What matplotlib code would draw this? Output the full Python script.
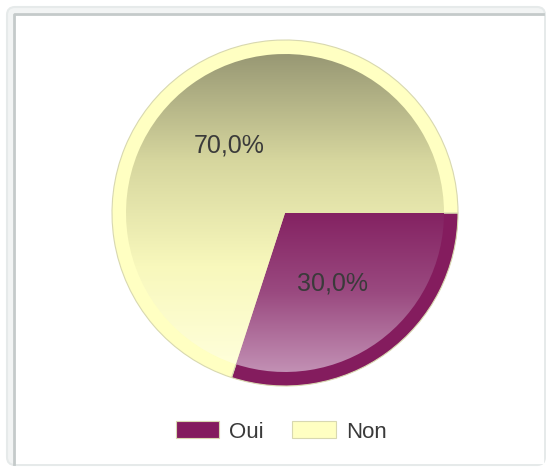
import numpy as np
import matplotlib.pyplot as plt
from matplotlib.colors import LinearSegmentedColormap
from matplotlib.patches import Rectangle, FancyBboxPatch

# data
labels = ['Oui', 'Non']
values = [30.0, 70.0]
rim_colors = ['#841c5e', '#ffffc2']
grad_stops = [
    ['#842262', '#9a4a80', '#c290b4'],   # Oui, top -> bottom
    ['#989874', '#d6d69e', '#f8f8bc', '#ffffdc'],   # Non, top -> bottom
]

W, H = 546, 468
cx, cy = 285, H - 213
r_out, r_in = 173, 159

plt.rcParams['font.family'] = ['Liberation Sans', 'DejaVu Sans']

fig = plt.figure(figsize=(W / 100, H / 100), dpi=100)
ax = fig.add_axes([0, 0, 1, 1])

# outer rim
rim, _ = ax.pie(values, radius=r_out, center=(cx, cy), startangle=0,
                counterclock=False, colors=rim_colors,
                wedgeprops=dict(edgecolor='#d8d8b0', linewidth=0.8))

# inner wedges, filled with vertical gradients
inner, _ = ax.pie(values, radius=r_in, center=(cx, cy), startangle=0,
                  counterclock=False, colors=['none', 'none'],
                  wedgeprops=dict(linewidth=0))
for w, stops in zip(inner, grad_stops):
    cmap = LinearSegmentedColormap.from_list('g', stops)
    if w.theta2 - w.theta1 < 180:
        top, bot = cy, cy - r_in
    else:
        top, bot = cy + r_in, cy - r_in
    grad = np.linspace(0, 1, 256).reshape(-1, 1)
    im = ax.imshow(grad, cmap=cmap, aspect='auto', origin='upper',
                   extent=(cx - r_in, cx + r_in, bot, top), zorder=w.get_zorder())
    im.set_clip_path(w)

# percentage labels
ax.text(229, H - 145, '70,0%', fontsize=18, color='#3a3a3a',
        ha='center', va='center', zorder=5)
ax.text(333, H - 283, '30,0%', fontsize=18, color='#3a3a3a',
        ha='center', va='center', zorder=5)

# frame
ax.add_patch(FancyBboxPatch((7, 3), W - 8, H - 10, boxstyle='round,pad=0,rounding_size=8',
                            facecolor='#f2f4f4', edgecolor='#e6eaea', linewidth=1.5, zorder=-3))
ax.add_patch(Rectangle((13, 4), W - 15, H - 17, facecolor='white',
                       edgecolor='none', zorder=-2))
ax.plot([13.5, 13.5, W - 3], [4, H - 13.5, H - 13.5], color='#c4caca', lw=2, zorder=-1)

ax.legend(rim, labels, loc='center', bbox_to_anchor=(281 / W, 1 - 432 / H),
          ncol=2, frameon=False, fontsize=16, handlelength=1.95, handleheight=0.8,
          handletextpad=0.45, columnspacing=1.3, labelcolor='#3a3a3a')

ax.set_xlim(0, W)
ax.set_ylim(0, H)
ax.set_aspect('equal')
ax.axis('off')

fig.savefig('out.png', dpi=100)
